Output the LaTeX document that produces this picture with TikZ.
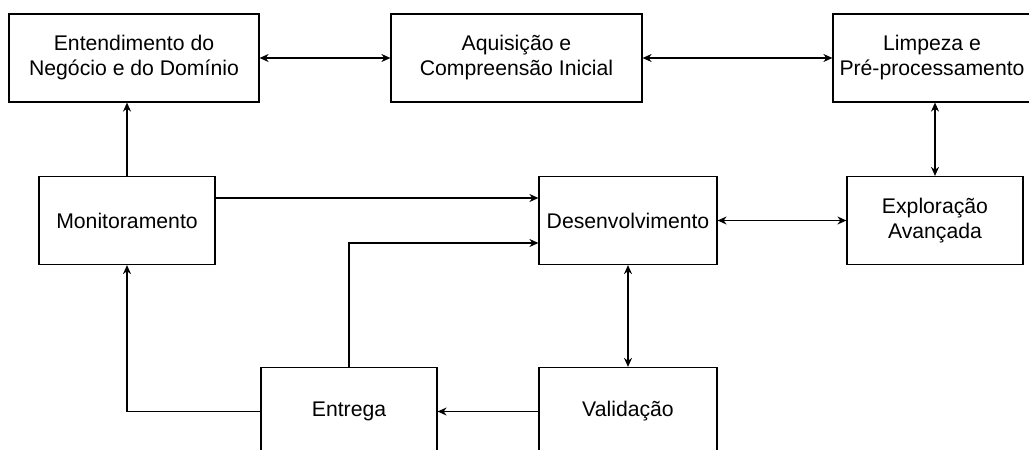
\documentclass[tikz,border=0pt]{standalone}
\usepackage{fontspec}
\setmainfont{Liberation Sans}
\usetikzlibrary{arrows.meta}
\begin{document}
\begin{tikzpicture}[x=0.5pt,y=-0.5pt,%
% common options for the boxes:
stage/.style = {draw, line width=0.6pt, align=center, inner sep=0,
            minimum height=44pt, font=\fontsize{10.6}{12.5}\selectfont},
% common options for the connectors:
flow/.style = {line width=0.6pt, -{Stealth[length=4.5pt,width=4pt]}},
both/.style = {line width=0.6pt, {Stealth[length=4.5pt,width=4pt]}-{Stealth[length=4.5pt,width=4pt]}}]
\useasboundingbox (0,0) rectangle (1029,450);
\node[stage,minimum width=125pt] (negocio) at (134,58) {Entendimento do\\Negócio e do Domínio};
\node[stage,minimum width=125.5pt] (aquisicao) at (516.5,58) {Aquisição e\\Compreensão Inicial};
\node[stage,minimum width=99pt] (limpeza) at (932,58) {Limpeza e\\Pré-processamento};
\node[stage,minimum width=88pt] (monit) at (127,220.5) {Monitoramento};
\node[stage,minimum width=89pt] (desenv) at (628,220.5) {Desenvolvimento};
\node[stage,minimum width=88pt] (explor) at (935,220.5) {Exploração\\Avançada};
\node[stage,minimum width=88pt] (entrega) at (349,411.5) {Entrega};
\node[stage,minimum width=89pt] (valid) at (628,411.5) {Validação};
\draw[both] (negocio.east) to (aquisicao.west);
\draw[both] (aquisicao.east) to (limpeza.west);
\draw[both] (explor.north |- limpeza.south) to (explor.north);
\draw[both] (desenv.east) to (explor.west);
\draw[both] (desenv.south) to (valid.north);
\draw[flow] (monit.north) to (monit.north |- negocio.south);
\draw[flow] ([yshift=11.25pt]monit.east) to ([yshift=11.25pt]monit.east -| desenv.west);
\draw[flow] (entrega.north) |- ([yshift=-11.25pt]desenv.west);
\draw[flow] (valid.west) to (entrega.east);
\draw[flow] (entrega.west) -| (monit.south);
\end{tikzpicture}
\end{document}
